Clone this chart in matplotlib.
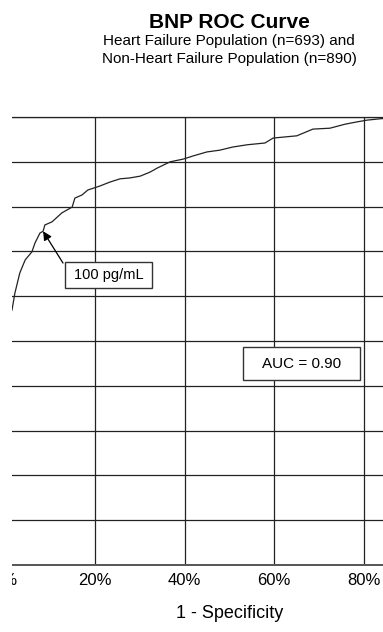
import matplotlib.pyplot as plt
from matplotlib.patches import Rectangle

plt.rcParams['font.family'] = ['Liberation Sans', 'DejaVu Sans']

# ROC curve points (1 - specificity, sensitivity)
fpr = [0.0145, 0.021, 0.032, 0.044, 0.059, 0.066, 0.077, 0.084, 0.088, 0.104,
       0.126, 0.149, 0.155, 0.171, 0.184, 0.211, 0.234, 0.256, 0.278, 0.301,
       0.323, 0.339, 0.368, 0.397, 0.419, 0.450, 0.479, 0.508, 0.540, 0.580,
       0.598, 0.651, 0.687, 0.725, 0.759, 0.785, 0.808, 0.837, 0.860, 1.0]
sens = [0.569, 0.607, 0.652, 0.681, 0.699, 0.719, 0.741, 0.745, 0.759, 0.766,
        0.786, 0.799, 0.819, 0.826, 0.837, 0.846, 0.855, 0.862, 0.864, 0.868,
        0.877, 0.886, 0.900, 0.906, 0.913, 0.922, 0.926, 0.933, 0.938, 0.942,
        0.953, 0.958, 0.973, 0.975, 0.984, 0.989, 0.993, 0.996, 0.998, 1.0]

x_ticks = [0.0, 0.2, 0.4, 0.6, 0.8, 1.0]
x_labels = ['0%', '20%', '40%', '60%', '80%', '100%']
cutoff_point = (0.084, 0.745)

fig = plt.figure(figsize=(3.83, 6.32), dpi=100)
ax = fig.add_axes([5.5 / 383, 67 / 632, 447.5 / 383, 448 / 632])

ax.plot(fpr, sens, color='#222222', lw=0.9, zorder=3)

ax.set_xlim(0, 1)
ax.set_ylim(0, 1)
ax.set_xticks(x_ticks)
ax.set_xticklabels(x_labels, fontsize=12)
ax.set_yticks([i / 10 for i in range(11)])
ax.set_yticklabels([])
ax.tick_params(length=0, pad=6)
ax.grid(True, color='#222222', lw=0.9)
for s in ['left', 'right']:
    ax.spines[s].set_visible(False)
ax.spines['top'].set_color('#222222')
ax.spines['top'].set_linewidth(0.9)
ax.spines['bottom'].set_color('#555555')
ax.spines['bottom'].set_linewidth(1.4)

# 100 pg/mL label with arrow
ax.add_patch(Rectangle((0.133, 0.618), 0.194, 0.058, facecolor='white',
                       edgecolor='#333333', lw=1.0, zorder=4))
ax.text(0.230, 0.647, '100 pg/mL', ha='center', va='center', fontsize=10.5, zorder=5)
ax.annotate('', xy=cutoff_point, xytext=(0.1285, 0.674),
            arrowprops=dict(arrowstyle='-|>', color='black', lw=0.9,
                            mutation_scale=13, shrinkA=0, shrinkB=0), zorder=5)

# AUC label
ax.add_patch(Rectangle((0.531, 0.413), 0.261, 0.074, facecolor='white',
                       edgecolor='#333333', lw=1.0, zorder=4))
ax.text(0.661, 0.449, 'AUC = 0.90', ha='center', va='center', fontsize=11, zorder=5)

# titles and axis label centred on the 50% position
ax.text(0.5, 1.0 + 95 / 448, 'BNP ROC Curve', transform=ax.transAxes,
        ha='center', va='center', fontsize=15, fontweight='bold')
ax.text(0.5, 1.0 + 67 / 448, 'Heart Failure Population (n=693) and\nNon-Heart Failure Population (n=890)',
        transform=ax.transAxes, ha='center', va='center', fontsize=11, linespacing=1.42)
ax.text(0.5, -48 / 448, '1 - Specificity', transform=ax.transAxes,
        ha='center', va='center', fontsize=13)

# the reference is cropped on the left side
fig.patches.append(Rectangle((0, 0), 12 / 383, 1, transform=fig.transFigure,
                             facecolor='white', edgecolor='none', zorder=10))

fig.savefig('out.png', dpi=100)
